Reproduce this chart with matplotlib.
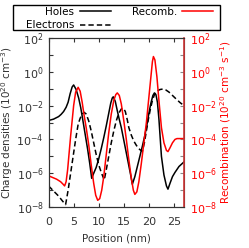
import numpy as np
import matplotlib
matplotlib.use('Agg')
import matplotlib.pyplot as plt
from matplotlib.ticker import LogLocator, NullFormatter
from matplotlib.patches import Rectangle

# values, densities/recombination as log10 exponents
holes_x = [0, 1, 2, 2.5, 3, 3.5, 3.9, 4.3, 4.7, 5.0, 5.5, 6.0, 6.4, 6.8, 7.3, 7.8, 8.2, 8.6, 9.0, 9.5,
           10.0, 10.5, 11.0, 11.5, 12.0, 12.4, 12.7, 12.9, 13.3, 13.7, 14.1, 14.5, 15.0, 15.5, 16.0, 16.4,
           16.7, 17.2, 17.7, 18.2, 18.7, 19.2, 19.6, 20.0, 20.4, 20.8, 21.1, 21.4, 21.7, 22.0, 22.5, 23.0,
           23.5, 23.8, 24.2, 24.7, 25.2, 26.0, 27.0]
holes_log = [-2.88, -2.8, -2.65, -2.52, -2.35, -2.1, -1.8, -1.3, -0.9, -0.78, -1.05, -1.55, -2.1, -2.8,
             -3.7, -4.6, -5.4, -6.3, -6.0, -5.65, -5.15, -4.55, -3.9, -3.2, -2.45, -1.85, -1.55, -1.48,
             -1.75, -2.3, -2.82, -3.3, -4.05, -4.8, -5.55, -6.15, -6.65, -6.2, -5.6, -5.0, -4.4, -3.75,
             -3.15, -2.45, -1.85, -1.4, -1.25, -1.35, -1.8, -2.8, -5.0, -6.1, -6.75, -6.94, -6.6, -6.2,
             -5.95, -5.6, -5.33]

elec_x = [0, 1, 2, 2.8, 3.4, 3.9, 4.4, 4.9, 5.4, 5.9, 6.3, 6.7, 7.1, 7.5, 8.0, 8.5, 9.0, 9.5, 10.0, 10.5,
          11.1, 11.5, 12.0, 12.5, 13.0, 13.5, 14.0, 14.5, 14.9, 15.3, 15.7, 16.0, 16.5, 17.0, 17.5, 18.0,
          18.4, 18.7, 19.1, 19.5, 19.9, 20.3, 20.7, 21.1, 21.6, 22.2, 22.8, 23.4, 24.0, 24.7, 25.4, 26.2, 27.0]
elec_log = [-6.75, -7.05, -7.35, -7.65, -7.85, -7.0, -6.0, -5.0, -4.0, -3.1, -2.75, -2.5, -2.4, -2.5,
            -2.9, -3.5, -4.2, -4.9, -5.5, -5.95, -6.4, -5.8, -5.0, -4.2, -3.5, -2.9, -2.45, -2.2, -2.15,
            -2.35, -2.85, -3.3, -3.75, -4.1, -4.35, -4.55, -4.65, -4.7, -4.2, -3.5, -2.8, -2.2, -1.7,
            -1.35, -1.15, -1.05, -1.02, -1.08, -1.2, -1.4, -1.6, -1.82, -2.0]

rec_x = [0, 0.8, 1.6, 2.4, 2.9, 3.2, 3.5, 3.8, 4.1, 4.4, 4.7, 5.0, 5.4, 5.9, 6.3, 6.7, 7.1, 7.5, 8.0, 8.5,
         9.0, 9.4, 9.8, 10.2, 10.6, 11.0, 11.5, 12.0, 12.5, 13.0, 13.4, 13.7, 14.1, 14.5, 15.0, 15.5, 16.0,
         16.5, 16.9, 17.2, 17.6, 18.0, 18.5, 19.0, 19.5, 20.0, 20.4, 20.7, 20.9, 21.2, 21.6, 22.0, 22.5,
         23.0, 23.5, 23.8, 24.2, 24.7, 25.2, 25.6, 27.0]
rec_log = [-6.15, -6.25, -6.35, -6.5, -6.65, -6.75, -6.5, -5.8, -4.8, -3.8, -2.9, -2.0, -1.2, -0.92,
           -1.15, -1.8, -2.6, -3.3, -4.3, -5.5, -6.6, -7.3, -7.6, -7.5, -7.0, -6.2, -4.9, -3.6, -2.5,
           -1.7, -1.35, -1.25, -1.4, -1.9, -2.9, -4.0, -5.2, -6.3, -7.0, -7.25, -7.1, -6.5, -5.4, -4.2,
           -3.0, -1.5, -0.3, 0.6, 0.9, 0.7, -0.3, -1.7, -3.3, -4.2, -4.65, -4.72, -4.5, -4.2, -4.0,
           -3.95, -3.95]

xticks = [0, 5, 10, 15, 20, 25]
labels = ['Holes', 'Electrons', 'Recomb.']

fig = plt.figure(figsize=(2.49, 2.48), dpi=100)
ax = fig.add_axes([0.195, 0.165, 0.544, 0.682])
ax2 = ax.twinx()

l1, = ax.plot(holes_x, 10 ** np.array(holes_log), color='black', lw=1.1)
l2, = ax.plot(elec_x, 10 ** np.array(elec_log), color='black', lw=1.1, dashes=(3.5, 2))
l3, = ax2.plot(rec_x, 10 ** np.array(rec_log), color='red', lw=1.1)

for a in (ax, ax2):
    a.set_yscale('log')
    a.set_ylim(1e-8, 1e2)
    a.yaxis.set_major_locator(LogLocator(base=100))
    a.yaxis.set_minor_locator(LogLocator(base=10, subs=(1.0,), numticks=20))
    a.yaxis.set_minor_formatter(NullFormatter())
ax.set_xlim(0, 27)
ax.set_xticks(xticks)

ax.tick_params(axis='x', which='both', top=True, direction='in', length=3, width=0.8,
               labelsize=8, pad=7, colors='#333333')
ax.tick_params(axis='y', which='both', direction='in', length=3, width=0.8,
               labelsize=8, pad=3.5, colors='#333333')
ax2.tick_params(axis='y', which='both', direction='in', length=3, width=0.8,
                labelsize=8, pad=4, color='#888888', labelcolor='red')
for s in ax.spines.values():
    s.set_linewidth(0.8)
    s.set_color('#333333')
for s in ax2.spines.values():
    s.set_linewidth(0.8)
    s.set_color('#333333')
ax2.spines['right'].set_color('#cc3333')
ax2.spines['right'].set_linewidth(1.2)

ax.set_xlabel('Position (nm)', fontsize=7.5, color='#333333', labelpad=4.5)
ax.set_ylabel('Charge densities (10$^{20}$ cm$^{-3}$)', fontsize=7.5, color='#333333')
ax2.set_ylabel('Recombination (10$^{20}$ cm$^{-3}$ s$^{-1}$)', fontsize=7.5, color='red')
ax.yaxis.set_label_coords(-0.245, 0.5)
ax2.yaxis.set_label_coords(1.25, 0.5)

fig.legend([l1, l2, l3], labels, ncol=2, markerfirst=False, frameon=False,
           loc='upper left', bbox_to_anchor=(25 / 249, 1 - 6 / 248), fontsize=7.5,
           handlelength=3.0, handletextpad=0.5, columnspacing=2.0, labelspacing=0.3,
           borderpad=0.1, borderaxespad=0)
fig.add_artist(Rectangle((13 / 249, 1 - 30 / 248), 207 / 249, 25 / 248,
                         transform=fig.transFigure, fill=False, ec='black', lw=1))

fig.savefig('out.png', dpi=100)
